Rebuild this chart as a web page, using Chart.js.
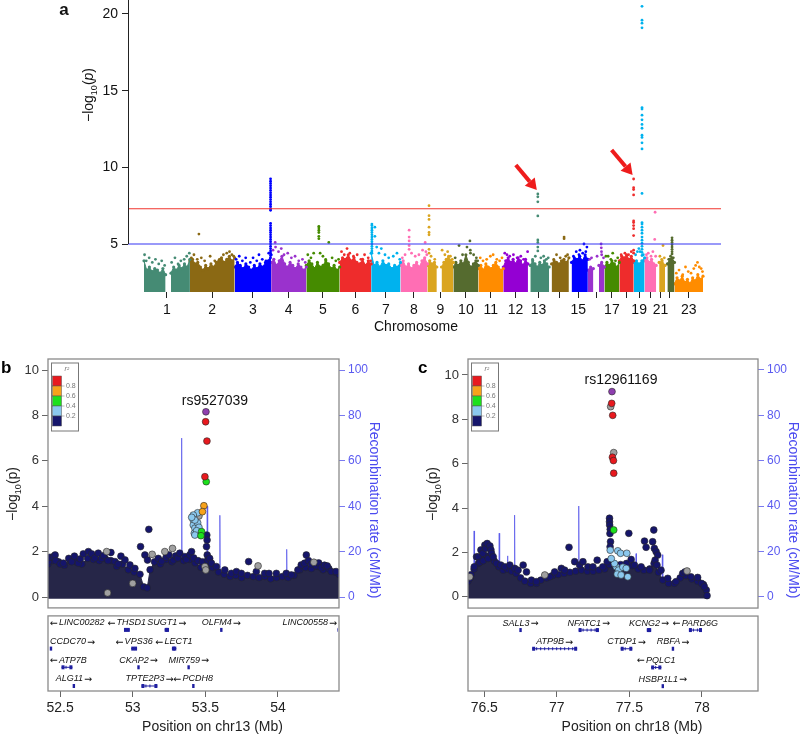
<!DOCTYPE html>
<html>
<head>
<meta charset="utf-8">
<script src="https://cdn.jsdelivr.net/npm/chart.js@4.4.1/dist/chart.umd.min.js"></script>
<style>
  body { margin: 0; background: #fff; width: 800px; height: 735px; overflow: hidden; position: relative; }
  canvas { position: absolute; }
</style>
</head>
<body>
<canvas id="manhattan" width="800" height="360" style="left:0;top:-20px"></canvas>
<canvas id="locusB" width="400" height="395" style="left:0;top:340px"></canvas>
<canvas id="locusC" width="400" height="395" style="left:400px;top:340px"></canvas>
<script>
// ---------- panel a : genome-wide scan ----------
const chromLengths = [249,243,198,191,181,171,159,146,141,136,135,134,115,107,103,90,81,78,59,63,48,51,155];
const chromColors = ['#458B74','#8B6914','#0000FF','#9A32CD','#458B00','#EE2C2C','#00B2EE','#FF6EB4','#DAA520','#556B2F','#FF8C00','#9400D3',
                     '#458B74','#8B6914','#0000FF','#9A32CD','#458B00','#EE2C2C','#00B2EE','#FF6EB4','#DAA520','#556B2F','#FF8C00'];
const chromTickLabels = ['1','2','3','4','5','6','7','8','9','10','11','12','13','','15','','17','','19','','21','','23'];
const aYTicks = [5, 10, 15, 20];
const genomeWideLine = 7.3;
const suggestiveLine = 5;

// dense lower part of each chromosome (-log10 p), evenly spaced along the chromosome
const chromCores = [
  [3.9,3.3,3.5,3.2,3.4,3.3,3.1,3.4,3.0,null,3.1,3.5,3.3,3.6,3.4,3.7,3.5,4.0],
  [3.9,4.0,3.7,3.8,3.5,3.3,3.6,3.4,3.7,3.5,3.8,3.9,4.1,3.8,4.0,4.2,3.9,4.1],
  [3.5,3.8,3.6,3.4,3.7,3.5,3.3,3.6,3.4,3.7,3.5,3.8,3.9,4.3],
  [3.8,4.0,3.6,3.9,4.2,3.7,3.5,3.8,3.6,3.4,3.7,3.5,3.3,3.5],
  [3.6,3.9,3.7,3.4,3.8,3.5,3.6,3.9,3.7,3.4,3.6,3.3,3.5],
  [3.8,4.1,4.0,4.3,3.9,4.1,3.8,3.7,4.0,3.6,3.9,3.7],
  [4.4,3.6,3.8,3.5,3.9,3.6,3.7,3.4,3.6,3.5,3.8],
  [3.6,3.9,3.5,3.7,3.4,3.6,3.8,3.5,3.9,4.1,3.7],
  [3.6,3.9,3.7,3.8,3.5,null,3.5,3.8,4.0,4.2,3.9,3.8],
  [3.5,3.8,3.6,3.9,3.7,4.3,3.8,3.5,3.7,3.9,3.6],
  [3.4,3.6,3.3,3.7,3.5,3.4,3.6,3.8,3.5,3.3,3.4],
  [3.5,3.9,4.1,3.8,4.0,3.7,4.1,3.9,3.6,4.0,3.7],
  [null,3.6,3.9,3.7,3.5,3.8,3.6,3.9,3.7,3.5],
  [null,3.7,3.9,3.8,3.7,3.9,4.0,3.8,4.1],
  [null,3.8,4.1,4.0,4.2,3.9,4.3,4.0],
  [3.3,3.5,3.4,null,3.6,3.8,3.5],
  [3.5,3.8,3.6,3.9,3.7,3.5,3.8],
  [3.9,4.2,4.1,4.3,4.0,4.2,3.9],
  [3.8,3.9,3.7,3.9,4.1],
  [3.9,4.1,3.8,4.0,3.7,3.6],
  [null,3.8,3.9,3.6],
  [null,3.7,4.0,4.1,3.8],
  [2.4,2.8,2.6,2.9,2.5,2.7,2.4,2.8,2.6,3.0,2.7,2.9]
];

// individual SNPs above the dense part: [position in Mb, -log10 p]
const chromDots = [
  [[3,4.3],[12,3.9],[28,4.1],[45,3.8],[62,4.0],[80,3.7],[96,3.9],[112,3.6],[150,3.8],[168,4.1],[185,3.7],[200,3.9],[218,4.0],[232,4.2],[246,4.4]],
  [[8,4.1],[22,4.3],[40,4.0],[49,5.65],[62,4.1],[80,3.9],[110,4.2],[135,3.9],[160,4.0],[182,4.3],[200,4.4],[215,4.5],[228,4.3],[238,4.2]],
  [[8,4.0],[25,4.2],[42,3.9],[60,4.1],[85,3.8],[100,4.1],[120,3.9],[132,4.3],[150,4.0],[170,3.9],[185,4.4],
   [195,9.25],[195,9.1],[195,8.95],[195,8.8],[195,8.65],[195,8.5],[195,8.35],[195,8.2],[195,8.05],[195,7.9],[195,7.75],[195,7.6],[195,7.45],[195,7.3],[195,7.2],
   [195,6.35],[195,6.2],[195,6.05],[195,5.9],[195,5.75],[195,5.6],[195,5.45],[195,5.3],[195,5.15],[195,5.0],[195,4.85],[195,4.7],[195,4.55],[195,4.4],[195,4.25],[195,4.1]],
  [[10,4.6],[22,5.1],[24,4.8],[40,4.5],[55,4.7],[70,4.3],[90,4.4],[110,4.1],[130,4.2],[150,3.9],[170,4.0],[185,3.8]],
  [[8,4.3],[25,4.1],[40,4.4],[68,6.15],[68,6.05],[68,5.9],[68,5.75],[68,5.5],[68,5.35],[75,4.4],[90,4.2],[105,4.0],[122,5.1],[140,4.1],[160,3.9],[175,4.0]],
  [[10,4.5],[25,4.3],[40,4.7],[55,4.4],[75,4.2],[95,4.3],[115,4.0],[135,4.3],[155,4.1],[168,3.9]],
  [[4,6.3],[4,6.2],[4,6.05],[4,5.9],[4,5.75],[4,5.6],[4,5.45],[4,5.3],[4,5.15],[4,5.0],[4,4.85],[4,4.7],[4,4.55],[4,4.4],
   [20,6.1],[20,5.5],[30,4.8],[42,4.4],[55,4.7],[75,4.3],[95,4.1],[120,4.2],[140,4.4],[155,4.0]],
  [[10,4.1],[25,4.3],[47,5.9],[47,5.45],[47,5.2],[47,4.9],[47,4.65],[60,4.4],[80,4.2],[100,4.3],[120,4.6],[134,5.1],[138,4.5],[143,4.3]],
  [[9,7.5],[9,6.85],[9,6.6],[9,6.1],[9,5.75],[9,5.6],[9,4.65],[9,4.4],[20,4.2],[40,4.0],[80,4.6],[95,4.3],[110,4.5],[125,4.2],[135,4.0]],
  [[10,4.1],[31,4.9],[50,4.3],[74,4.8],[90,5.2],[92,4.6],[93,4.4],[110,4.3],[125,4.1],[132,3.9]],
  [[10,4.1],[25,3.9],[45,4.0],[65,4.2],[80,4.3],[100,4.0],[115,3.9],[128,4.1]],
  [[8,4.4],[20,4.3],[35,4.2],[55,4.3],[75,4.1],[95,4.2],[110,4.0],[132,4.5]],
  [[25,4.0],[40,4.2],[53.5,8.26],[53.5,8.08],[53.5,7.75],[53.5,6.83],[53.5,5.26],[53.5,5.1],[53.5,4.8],[53.5,4.55],[70,4.1],[85,4.2],[100,4.0],[110,4.1]],
  [[25,4.0],[40,4.3],[60,4.1],[81,5.45],[81,5.35],[90,4.2],[100,4.3]],
  [[25,4.2],[40,4.5],[55,4.3],[60,4.6],[75,4.4],[82,5.0],[92,4.5],[98,4.8]],
  [[10,4.0],[20,4.1],[50,4.2],[72,5.0],[73,4.75],[74,4.5],[75,4.3],[85,4.1]],
  [[8,4.2],[20,4.2],[35,4.0],[45,4.4],[60,3.9],[72,4.1]],
  [[10,4.3],[30,4.4],[50,4.3],[65,4.5],[77.4,9.24],[77.4,8.67],[77.4,8.55],[77.4,8.2],[77.4,6.5],[77.4,6.4],[77.4,6.2],[77.4,6.0],[77.4,5.55],[77.4,4.6],[77.4,4.4]],
  [[10,4.3],[20,4.5],[28,4.7],[35,4.5],[45,20.5],[45,19.6],[45,19.4],[45,19.1],[45,13.9],[45,13.8],[45,13.4],[45,13.1],[45,12.8],[45,12.55],[45,12.1],[45,11.95],[45,11.6],[45,11.2],
   [45,8.3],[45,6.4],[45,6.3],[45,6.1],[45,5.9],[45,5.7],[45,5.45],[45,5.25],[45,5.05],[45,4.85],[45,4.65],[45,4.45],[45,4.25],[52,4.3]],
  [[10,4.3],[20,4.4],[35,4.2],[45,4.5],[55,5.3],[57,7.07],[60,4.2]],
  [[20,4.2],[30,4.0],[37,4.9],[44,4.1]],
  [[20,4.0],[30,4.2],[38,5.4],[38,5.25],[38,5.1],[38,4.95],[38,4.8],[38,4.65],[38,4.5],[38,4.35],[45,4.1]],
  [[10,3.1],[25,3.3],[45,3.0],[60,3.5],[75,3.2],[90,3.1],[105,3.4],[115,3.6],[125,3.8],[135,3.5],[145,3.4],[152,3.2]]
];
// arrows point at these hits: [chromosome, position Mb, -log10 p]
const arrowHits = [[13, 53.5, 8.26], [18, 77.4, 9.24]];

// ---------- panels b and c : regional plots ----------
const r2Colors = ['#E8191E', '#F7A21B', '#1CE01C', '#8BC8EE', '#15156B'];
const r2Labels = ['0.8', '0.6', '0.4', '0.2'];
const grayColor = '#A0A0A0';
const leadColor = '#8E3FAF';
const massColor = '#262648';

const bXTicks = [52.5, 53, 53.5, 54];
const bLead = [[53.504, 8.16]];
const bRed = [[53.502, 7.72], [53.511, 6.87], [53.497, 5.30]];
const bOrange = [[53.49, 4.02], [53.48, 3.76]];
const bGreen = [[53.506, 5.08], [53.474, 2.88], [53.47, 2.70]];
const bLightBlue = [[53.447,3.71],[53.417,3.61],[53.417,3.39],[53.417,3.17],[53.428,3.03],[53.424,2.81],[53.447,3.27],[53.456,3.07],[53.428,3.39],[53.406,3.51],[53.44,2.92],[53.428,2.73]];
const bGray = [[52.821,2.0],[53.134,1.88],[53.221,2.0],[53.274,2.14],[53.863,1.37],[54.247,1.53],[53.497,1.34],[53.503,1.19],[53.456,3.57],[52.827,0.18],[53.0,0.6]];
const bNavy = [
  [52.42,1.56],[52.43,1.75],[52.454,1.78],[52.466,1.85],[52.47,1.6],[52.5,1.45],[52.523,1.49],[52.56,1.7],[52.58,1.55],[52.599,1.80],[52.626,1.49],[52.64,1.68],[52.66,1.9],
  [52.695,2.0],[52.718,1.9],[52.74,1.72],[52.763,1.93],[52.786,1.7],[52.8,1.82],[52.83,1.6],[52.85,1.96],[52.878,1.56],[52.9,1.45],[52.919,1.8],[52.947,1.63],[52.981,1.41],
  [53.015,1.26],[53.054,2.22],[53.084,1.85],[53.111,2.98],[53.102,1.63],[53.176,1.7],[53.2,1.58],[53.23,1.75],[53.249,1.85],[53.28,1.62],[53.295,1.81],[53.31,1.72],
  [53.324,1.93],[53.359,1.78],[53.37,1.65],[53.393,1.85],[53.405,2.0],[53.42,1.72],[53.45,1.6],[53.48,1.55],[53.51,2.73],[53.512,2.51],[53.508,2.22],[53.513,1.85],
  [53.516,1.62],[53.53,1.7],[53.542,1.49],[53.576,1.34],[53.634,1.19],[53.679,1.04],[53.714,1.12],[53.748,1.04],[53.798,1.56],[53.851,1.12],[53.908,1.04],[53.938,1.04],
  [53.989,1.04],[54.057,1.04],[54.092,0.97],[54.137,1.19],[54.16,1.41],[54.183,1.49],[54.195,1.85],[54.21,1.6],[54.23,1.45],[54.263,1.37],[54.28,1.5],[54.298,1.29],
  [54.32,1.4],[54.339,1.37],[54.366,1.12],[54.4,1.12]
];
const bMass = [
  [52.417,1.45],[52.45,1.6],[52.49,1.55],[52.53,1.4],[52.57,1.6],[52.61,1.55],[52.65,1.45],[52.69,1.7],[52.73,1.65],[52.77,1.6],[52.81,1.7],[52.85,1.6],[52.89,1.35],
  [52.93,1.45],[52.97,1.2],[53.01,1.1],[53.05,1.0],[53.075,0.45],[53.10,0.4],[53.12,1.2],[53.15,1.55],[53.19,1.45],[53.23,1.65],[53.27,1.55],[53.31,1.7],[53.35,1.6],
  [53.39,1.65],[53.43,1.5],[53.47,1.3],[53.51,1.5],[53.55,1.3],[53.59,1.1],[53.63,1.0],[53.67,0.9],[53.71,0.95],[53.75,0.85],[53.79,0.95],[53.83,0.9],[53.87,0.85],
  [53.91,0.9],[53.95,0.8],[53.99,0.85],[54.03,0.9],[54.07,0.85],[54.11,0.95],[54.15,1.2],[54.19,1.3],[54.23,1.25],[54.27,1.35],[54.31,1.2],[54.35,1.25],[54.39,1.1],[54.42,1.0]
];
const bRecomb = [[52.417,0.5],[52.55,1.2],[52.7,0.8],[52.9,1.5],[53.1,1.0],[53.25,2.0],[53.334,3],[53.337,70],[53.340,3],[53.45,2.5],[53.51,4],[53.513,40],[53.516,4],
  [53.597,3],[53.60,36],[53.603,3],[53.8,1.2],[54.057,2],[54.06,21],[54.063,2],[54.25,1],[54.42,0.6]];
const bGenes = [
  ['LINC00282', 52.30, 52.38, 0, '-'], ['THSD1', 52.94, 52.98, 0, '-'], ['SUGT1', 53.22, 53.25, 0, '+'], ['OLFM4', 53.60, 53.62, 0, '+'], ['LINC00558', 54.41, 54.46, 0, '+'],
  ['CCDC70', 52.435, 52.44, 1, '+'], ['VPS36', 52.99, 53.03, 1, '-'], ['LECT1', 53.27, 53.30, 1, '-'],
  ['ATP7B', 52.51, 52.585, 2, '-'], ['CKAP2', 53.03, 53.05, 2, '+'], ['MIR759', 53.384, 53.386, 2, '+'],
  ['ALG11', 52.59, 52.60, 3, '+'], ['TPTE2P3', 53.06, 53.17, 3, '+'], ['PCDH8', 53.415, 53.42, 3, '-']
];

const cXTicks = [76.5, 77, 77.5, 78];
const cLead = [[77.38, 9.25]];
const cRed = [[77.378,8.72],[77.385,8.18],[77.383,6.29],[77.39,6.14],[77.392,5.57]];
const cGreen = [[77.392,3.01]];
const cLightBlue = [[77.368,2.1],[77.42,2.07],[77.439,1.96],[77.482,1.96],[77.409,1.35],[77.425,1.2],[77.455,1.33],[77.478,1.28],[77.416,1.02],[77.443,0.98],[77.489,0.9],[77.397,1.5],[77.375,1.72]];
const cGray = [[77.371,8.57],[77.392,6.5],[76.917,0.98],[77.897,1.16],[76.40,0.9]];
const cNavy = [
  [76.401,0.83],[76.431,1.35],[76.447,1.8],[76.459,1.8],[76.47,1.55],[76.477,2.11],[76.49,1.96],[76.493,1.62],[76.504,2.33],[76.509,2.18],[76.52,2.4],[76.527,1.72],
  [76.539,2.29],[76.546,2.11],[76.55,1.95],[76.562,1.8],[76.585,1.5],[76.614,1.43],[76.642,1.35],[76.676,1.43],[76.71,1.28],[76.733,1.2],[76.768,1.43],[76.791,1.12],
  [76.825,0.75],[76.859,0.68],[76.951,0.9],[76.985,1.12],[77.031,1.28],[77.054,1.2],[77.084,2.23],[77.123,1.58],[77.157,1.43],[77.18,1.58],[77.214,1.35],[77.249,1.35],
  [77.278,1.65],[77.317,1.35],[77.347,1.58],[77.363,3.54],[77.363,3.38],[77.364,3.23],[77.368,3.04],[77.366,2.85],[77.37,2.48],[77.367,2.25],[77.496,2.86],[77.512,1.68],
  [77.535,1.43],[77.581,1.35],[77.604,2.51],[77.615,2.23],[77.638,1.2],[77.66,2.48],[77.668,3.01],[77.672,2.18],[77.684,2.03],[77.695,1.88],[77.677,1.65],[77.69,1.43],
  [77.718,1.2],[77.764,0.83],[77.821,0.68],[77.867,1.05],[77.883,1.12],[77.924,0.9],[77.97,0.87],[77.997,0.6],[78.016,0.45]
];
const cMass = [
  [76.388,0.7],[76.41,1.0],[76.43,1.25],[76.46,1.5],[76.48,1.75],[76.51,1.85],[76.54,1.8],[76.57,1.6],[76.60,1.35],[76.63,1.2],[76.66,1.25],[76.69,1.15],[76.72,1.05],
  [76.75,0.85],[76.78,0.7],[76.82,0.6],[76.86,0.6],[76.89,0.75],[76.93,0.85],[76.97,0.95],[77.01,1.0],[77.05,1.05],[77.09,1.1],[77.13,1.15],[77.17,1.2],[77.21,1.15],
  [77.25,1.15],[77.29,1.2],[77.33,1.25],[77.36,1.45],[77.40,1.4],[77.44,1.45],[77.48,1.5],[77.52,1.4],[77.56,1.25],[77.60,1.2],[77.64,1.25],[77.67,1.5],[77.70,1.1],
  [77.73,0.75],[77.77,0.6],[77.81,0.6],[77.85,0.85],[77.89,0.95],[77.93,0.8],[77.97,0.7],[78.01,0.55],[78.03,0.3],[78.035,0.05]
];
const cRecomb = [[76.388,0.5],[76.427,2],[76.43,29],[76.433,2],[76.483,2],[76.486,22],[76.489,2],[76.60,2],[76.603,28],[76.606,2],[76.657,2],[76.66,18],[76.663,2],
  [76.706,2],[76.709,36],[76.712,2],[76.9,1],[77.148,2],[77.151,40],[77.154,2],[77.3,1.5],[77.543,2],[77.546,19],[77.549,2],[77.724,2],[77.727,18.5],[77.73,2],[77.9,1],[78.03,0.5]];
const cGenes = [
  ['SALL3', 76.74, 76.76, 0, '+'], ['NFATC1', 77.15, 77.29, 0, '+'], ['KCNG2', 77.62, 77.65, 0, '+'], ['PARD6G', 77.91, 78.0, 0, '-'],
  ['ATP9B', 76.83, 77.14, 1, '+'], ['CTDP1', 77.44, 77.52, 1, '+'], ['RBFA', 77.79, 77.81, 1, '+'],
  ['PQLC1', 77.65, 77.72, 2, '-'], ['HSBP1L1', 77.728, 77.732, 3, '+']
];

// ---------- helpers ----------
const FONT = "'Liberation Sans', Arial, Helvetica, sans-serif";
Chart.defaults.font.family = FONT;
const toXY = arr => arr.map(([x, y]) => ({x, y}));
const setTicks = vals => s => { s.ticks = vals.map(v => ({value: v})); };

function drawLogLabel(ctx, cx, cy, size, color, italicP) {
  const main = `${size}px ${FONT}`;
  const sub = `${Math.round(size * 0.65)}px ${FONT}`;
  ctx.save();
  ctx.translate(cx, cy);
  ctx.rotate(-Math.PI / 2);
  ctx.fillStyle = color;
  ctx.textAlign = 'left';
  ctx.textBaseline = 'alphabetic';
  ctx.font = main;
  const w1 = ctx.measureText('\u2212log').width;
  const w3 = ctx.measureText('(p)').width;
  ctx.font = sub;
  const w2 = ctx.measureText('10').width;
  let x = -(w1 + w2 + w3) / 2;
  const base = size * 0.36;
  ctx.font = main;
  ctx.fillText('\u2212log', x, base); x += w1;
  ctx.font = sub;
  ctx.fillText('10', x, base + size * 0.28); x += w2;
  ctx.font = main;
  ctx.fillText('(', x, base);
  const wo = ctx.measureText('(').width;
  ctx.font = (italicP ? 'italic ' : '') + main;
  ctx.fillText('p', x + wo, base);
  const wp = ctx.measureText('p').width;
  ctx.font = main;
  ctx.fillText(')', x + wo + wp, base);
  ctx.restore();
}

function drawArrow(ctx, fx, fy, tx, ty) {
  const ang = Math.atan2(ty - fy, tx - fx);
  const head = 11, half = 6.5;
  const bx = tx - head * Math.cos(ang), by = ty - head * Math.sin(ang);
  ctx.strokeStyle = '#EE1C1C';
  ctx.fillStyle = '#EE1C1C';
  ctx.lineWidth = 4;
  ctx.beginPath(); ctx.moveTo(fx, fy); ctx.lineTo(bx, by); ctx.stroke();
  ctx.beginPath();
  ctx.moveTo(tx, ty);
  ctx.lineTo(bx + half * Math.sin(ang), by - half * Math.cos(ang));
  ctx.lineTo(bx - half * Math.sin(ang), by + half * Math.cos(ang));
  ctx.closePath(); ctx.fill();
}

// ---------- panel a chart ----------
const chromStart = [];
let genomeLength = 0;
chromLengths.forEach(len => { chromStart.push(genomeLength); genomeLength += len; });
const chromMids = chromLengths.map((len, i) => chromStart[i] + len / 2);
const pxPerMb = (703 - 144) / genomeLength;
const aXMin = -16 / pxPerMb, aXMax = genomeLength + 18 / pxPerMb;

const manhattanSets = [
  {type: 'line', data: [{x: aXMin, y: genomeWideLine}, {x: aXMax, y: genomeWideLine}], borderColor: '#F0352E', borderWidth: 1.2, pointRadius: 0, order: 0},
  {type: 'line', data: [{x: aXMin, y: suggestiveLine}, {x: aXMax, y: suggestiveLine}], borderColor: '#3434F4', borderWidth: 1.2, pointRadius: 0, order: 0}
];
chromLengths.forEach((len, i) => {
  manhattanSets.push({
    type: 'scatter', data: chromDots[i].map(([p, v]) => ({x: chromStart[i] + p, y: v})),
    backgroundColor: chromColors[i], borderWidth: 0, pointRadius: 1.4, order: 1
  });
  const core = chromCores[i];
  manhattanSets.push({
    type: 'line', data: core.map((v, k) => ({x: chromStart[i] + len * k / (core.length - 1), y: v})),
    borderColor: chromColors[i], backgroundColor: chromColors[i], borderWidth: 1, fill: 'start',
    pointRadius: 1.6, pointBorderWidth: 0, pointBackgroundColor: chromColors[i], spanGaps: false, tension: 0, order: 2
  });
});

const manhattanDecor = {
  id: 'manhattanDecor',
  afterDraw(chart) {
    const {ctx, chartArea: a, scales: {x, y}} = chart;
    ctx.save();
    ctx.strokeStyle = '#222';
    ctx.lineWidth = 1;
    ctx.beginPath();
    ctx.moveTo(a.left + 0.5, y.getPixelForValue(aYTicks[0]));
    ctx.lineTo(a.left + 0.5, a.top);
    ctx.stroke();
    arrowHits.forEach(([chr, pos, v]) => {
      const tx = x.getPixelForValue(chromStart[chr - 1] + pos) - 1;
      const ty = y.getPixelForValue(v) - 4;
      drawArrow(ctx, tx - 21, ty - 25, tx, ty);
    });
    drawLogLabel(ctx, a.left - 40, a.top + 95, 14, '#111', true);
    ctx.fillStyle = '#111';
    ctx.font = `14px ${FONT}`;
    ctx.textAlign = 'center';
    ctx.textBaseline = 'middle';
    ctx.fillText('Chromosome', a.left + 288, a.bottom + 35);
    ctx.font = `bold 17px ${FONT}`;
    ctx.textBaseline = 'alphabetic';
    ctx.fillText('a', 64, a.top + 15);
    ctx.restore();
  }
};

new Chart(document.getElementById('manhattan'), {
  type: 'scatter',
  data: {datasets: manhattanSets},
  options: {
    responsive: false, animation: false, devicePixelRatio: 1,
    layout: {padding: {top: 20, right: 79, left: 0, bottom: 0}},
    plugins: {legend: {display: false}, tooltip: {enabled: false}},
    scales: {
      x: {
        type: 'linear', min: aXMin, max: aXMax,
        afterBuildTicks: setTicks(chromMids),
        afterFit: s => { s.height = 48; },
        ticks: {callback: (v, i) => chromTickLabels[i], color: '#111', font: {size: 14}, padding: 4, maxRotation: 0, autoSkip: false},
        grid: {drawOnChartArea: false, tickLength: 6, color: '#222'},
        border: {display: false}
      },
      y: {
        min: 1.87, max: 20.913,
        afterBuildTicks: setTicks(aYTicks),
        afterFit: s => { s.width = 128; },
        ticks: {callback: v => String(v), color: '#111', font: {size: 14}, padding: 4},
        grid: {drawOnChartArea: false, tickLength: 6, color: '#222'},
        border: {display: false}
      }
    }
  },
  plugins: [manhattanDecor]
});

// ---------- panels b and c ----------
function makeLocusDecor(cfg) {
  return {
    id: 'locusDecor' + cfg.letter,
    afterDraw(chart) {
      const {ctx, chartArea: a, scales: {x, y}} = chart;
      const boxBottom = y.getPixelForValue(cfg.boxMin);
      const gTop = boxBottom + 8;
      ctx.save();
      ctx.strokeStyle = '#8a8a8a';
      ctx.lineWidth = 1.3;
      ctx.strokeRect(a.left, a.top, a.right - a.left, boxBottom - a.top);
      ctx.strokeRect(a.left, gTop, a.right - a.left, a.bottom - gTop);

      // r2 legend
      const lx = a.left + 3.5, ly = a.top + 4;
      ctx.fillStyle = '#fff';
      ctx.fillRect(lx, ly, 27, 68);
      ctx.strokeStyle = '#777';
      ctx.lineWidth = 1;
      ctx.strokeRect(lx, ly, 27, 68);
      r2Colors.forEach((c, i) => {
        ctx.fillStyle = c;
        ctx.fillRect(lx + 1, ly + 13 + i * 10, 9, 10);
        ctx.strokeStyle = '#555';
        ctx.lineWidth = 0.5;
        ctx.strokeRect(lx + 1, ly + 13 + i * 10, 9, 10);
      });
      ctx.fillStyle = '#777';
      ctx.strokeStyle = '#777';
      ctx.font = `7px ${FONT}`;
      ctx.textAlign = 'left';
      ctx.textBaseline = 'middle';
      r2Labels.forEach((t, i) => {
        const ty = ly + 23 + i * 10;
        ctx.beginPath(); ctx.moveTo(lx + 10, ty); ctx.lineTo(lx + 13, ty); ctx.stroke();
        ctx.fillText(t, lx + 14.5, ty);
      });
      ctx.font = `italic 7px ${FONT}`;
      ctx.fillText('r\u00B2', lx + 13, ly + 6);

      // lead SNP label
      const lead = cfg.lead[0];
      ctx.fillStyle = '#111';
      ctx.font = `14px ${FONT}`;
      ctx.textAlign = 'center';
      ctx.fillText(cfg.leadLabel, x.getPixelForValue(lead[0]) + 9, y.getPixelForValue(lead[1]) - 11);

      // gene track
      ctx.save();
      ctx.beginPath();
      ctx.rect(a.left + 1, gTop + 1, a.right - a.left - 2, a.bottom - gTop - 2);
      ctx.clip();
      cfg.genes.forEach(([name, start, end, row, strand]) => {
        const x0 = x.getPixelForValue(start), x1 = x.getPixelForValue(end);
        const my = gTop + 14 + row * 18.7;
        ctx.fillStyle = '#1E1EA0';
        ctx.strokeStyle = '#1E1EA0';
        ctx.lineWidth = 1;
        if (x1 - x0 < 3) {
          ctx.fillRect((x0 + x1) / 2 - 1.2, my - 2, 2.4, 4);
        } else {
          ctx.beginPath(); ctx.moveTo(x0, my); ctx.lineTo(x1, my); ctx.stroke();
          ctx.fillRect(x0, my - 2, 3, 4);
          ctx.fillRect(x1 - 3, my - 2, 3, 4);
          for (let gx = x0 + 4; gx < x1 - 4; gx += 4) ctx.fillRect(gx, my - 1.5, 1, 3);
        }
      });
      ctx.restore();
      ctx.fillStyle = '#111';
      ctx.textBaseline = 'middle';
      ctx.textAlign = 'left';
      const nameFont = `italic 9px ${FONT}`, arrowFont = `9.5px 'DejaVu Sans', ${FONT}`;
      cfg.genes.forEach(([name, start, end, row, strand]) => {
        ctx.font = nameFont;
        const wn = ctx.measureText(name).width;
        ctx.font = arrowFont;
        const arrow = strand === '+' ? '\u2192' : '\u2190';
        const wa = ctx.measureText(arrow).width;
        const w = wn + wa + 1;
        const mid = (x.getPixelForValue(start) + x.getPixelForValue(end)) / 2;
        const cx = Math.min(Math.max(mid, a.left + 2 + w / 2), a.right - 2 - w / 2);
        const ty = gTop + 7 + row * 18.7;
        let left = cx - w / 2;
        if (strand === '+') {
          ctx.font = nameFont; ctx.fillText(name, left, ty);
          ctx.font = arrowFont; ctx.fillText(arrow, left + wn + 1, ty + 0.5);
        } else {
          ctx.font = arrowFont; ctx.fillText(arrow, left, ty + 0.5);
          ctx.font = nameFont; ctx.fillText(name, left + wa + 1, ty);
        }
      });

      // titles
      ctx.textAlign = 'center';
      drawLogLabel(ctx, a.left - 36, a.top + 135, 14, '#222', false);
      ctx.save();
      ctx.translate(a.right + 35, a.top + 151);
      ctx.rotate(Math.PI / 2);
      ctx.fillStyle = '#4B4BF0';
      ctx.font = `14px ${FONT}`;
      ctx.textAlign = 'center';
      ctx.textBaseline = 'middle';
      ctx.fillText('Recombination rate (cM/Mb)', 0, 0);
      ctx.restore();
      ctx.fillStyle = '#222';
      ctx.font = `14px ${FONT}`;
      ctx.textAlign = 'center';
      ctx.textBaseline = 'middle';
      ctx.fillText(cfg.xTitle, (a.left + a.right) / 2 + 19, a.bottom + 36);
      ctx.fillStyle = '#000';
      ctx.font = `bold 17px ${FONT}`;
      ctx.textAlign = 'left';
      ctx.textBaseline = 'alphabetic';
      ctx.fillText(cfg.letter, cfg.letterX, a.top + 14);
      ctx.restore();
    }
  };
}

function locusChart(id, d) {
  const pt = (data, color, order) => ({
    type: 'scatter', data: toXY(data), backgroundColor: color, borderColor: '#262626',
    borderWidth: 0.6, pointRadius: 3.4, order
  });
  new Chart(document.getElementById(id), {
    type: 'scatter',
    data: {datasets: [
      pt(d.lead, leadColor, 0),
      pt(d.red, r2Colors[0], 1),
      pt(d.orange, r2Colors[1], 2),
      pt(d.green, r2Colors[2], 3),
      pt(d.lightBlue, r2Colors[3], 4),
      pt(d.gray, grayColor, 5),
      pt(d.navy, r2Colors[4], 6),
      {type: 'line', data: toXY(d.mass), borderColor: massColor, backgroundColor: massColor, borderWidth: 1,
       fill: {value: -0.08}, pointRadius: 3.4, pointBackgroundColor: r2Colors[4], pointBorderColor: '#262626',
       pointBorderWidth: 0.6, tension: 0, order: 8},
      {type: 'line', data: toXY(d.recomb), yAxisID: 'y2', borderColor: 'rgba(90,90,235,0.75)', borderWidth: 1,
       pointRadius: 0, tension: 0, order: 9}
    ]},
    options: {
      responsive: false, animation: false, devicePixelRatio: 1,
      layout: {padding: {top: 19, left: 0, right: 0, bottom: 0}},
      plugins: {legend: {display: false}, tooltip: {enabled: false}},
      scales: {
        x: {
          type: 'linear', min: d.xRange[0], max: d.xRange[1],
          afterBuildTicks: setTicks(d.xTicks),
          afterFit: s => { s.height = 44; },
          ticks: {callback: v => String(v), color: '#222', font: {size: 14}, padding: 3, maxRotation: 0, autoSkip: false},
          grid: {drawOnChartArea: false, tickLength: 6, color: '#666'},
          border: {display: false}
        },
        y: {
          position: 'left', min: d.yRange[0], max: d.yRange[1],
          afterBuildTicks: setTicks([0, 2, 4, 6, 8, 10]),
          afterFit: s => { s.width = d.leftWidth; },
          ticks: {callback: v => String(v), color: '#333', font: {size: 13}, padding: 3},
          grid: {drawOnChartArea: false, tickLength: 6, color: '#666'},
          border: {display: false}
        },
        y2: {
          position: 'right', min: d.y2Range[0], max: d.y2Range[1],
          afterBuildTicks: setTicks([0, 20, 40, 60, 80, 100]),
          afterFit: s => { s.width = 400 - d.rightEdge; },
          ticks: {callback: v => String(v), color: '#5A5AF0', font: {size: 12}, padding: 3},
          grid: {drawOnChartArea: false, tickLength: 6, color: '#7A7AF0'},
          border: {display: false}
        }
      }
    },
    plugins: [makeLocusDecor(d.decor)]
  });
}

locusChart('locusB', {
  lead: bLead, red: bRed, orange: bOrange, green: bGreen, lightBlue: bLightBlue, gray: bGray, navy: bNavy,
  mass: bMass, recomb: bRecomb, xTicks: bXTicks,
  xRange: [52.417, 54.420], yRange: [-4.141, 10.485], y2Range: [-41.41, 104.85],
  leftWidth: 48, rightEdge: 339,
  decor: {letter: 'b', letterX: 1, lead: bLead, leadLabel: 'rs9527039', genes: bGenes, boxMin: -0.48, xTitle: 'Position on chr13 (Mb)'}
});
locusChart('locusC', {
  lead: cLead, red: cRed, orange: [], green: cGreen, lightBlue: cLightBlue, gray: cGray, navy: cNavy,
  mass: cMass, recomb: cRecomb, xTicks: cXTicks,
  xRange: [76.388, 78.386], yRange: [-4.25, 10.72], y2Range: [-41.6, 104.85],
  leftWidth: 68, rightEdge: 358,
  decor: {letter: 'c', letterX: 18, lead: cLead, leadLabel: 'rs12961169', genes: cGenes, boxMin: -0.51, xTitle: 'Position on chr18 (Mb)'}
});
</script>
</body>
</html>
